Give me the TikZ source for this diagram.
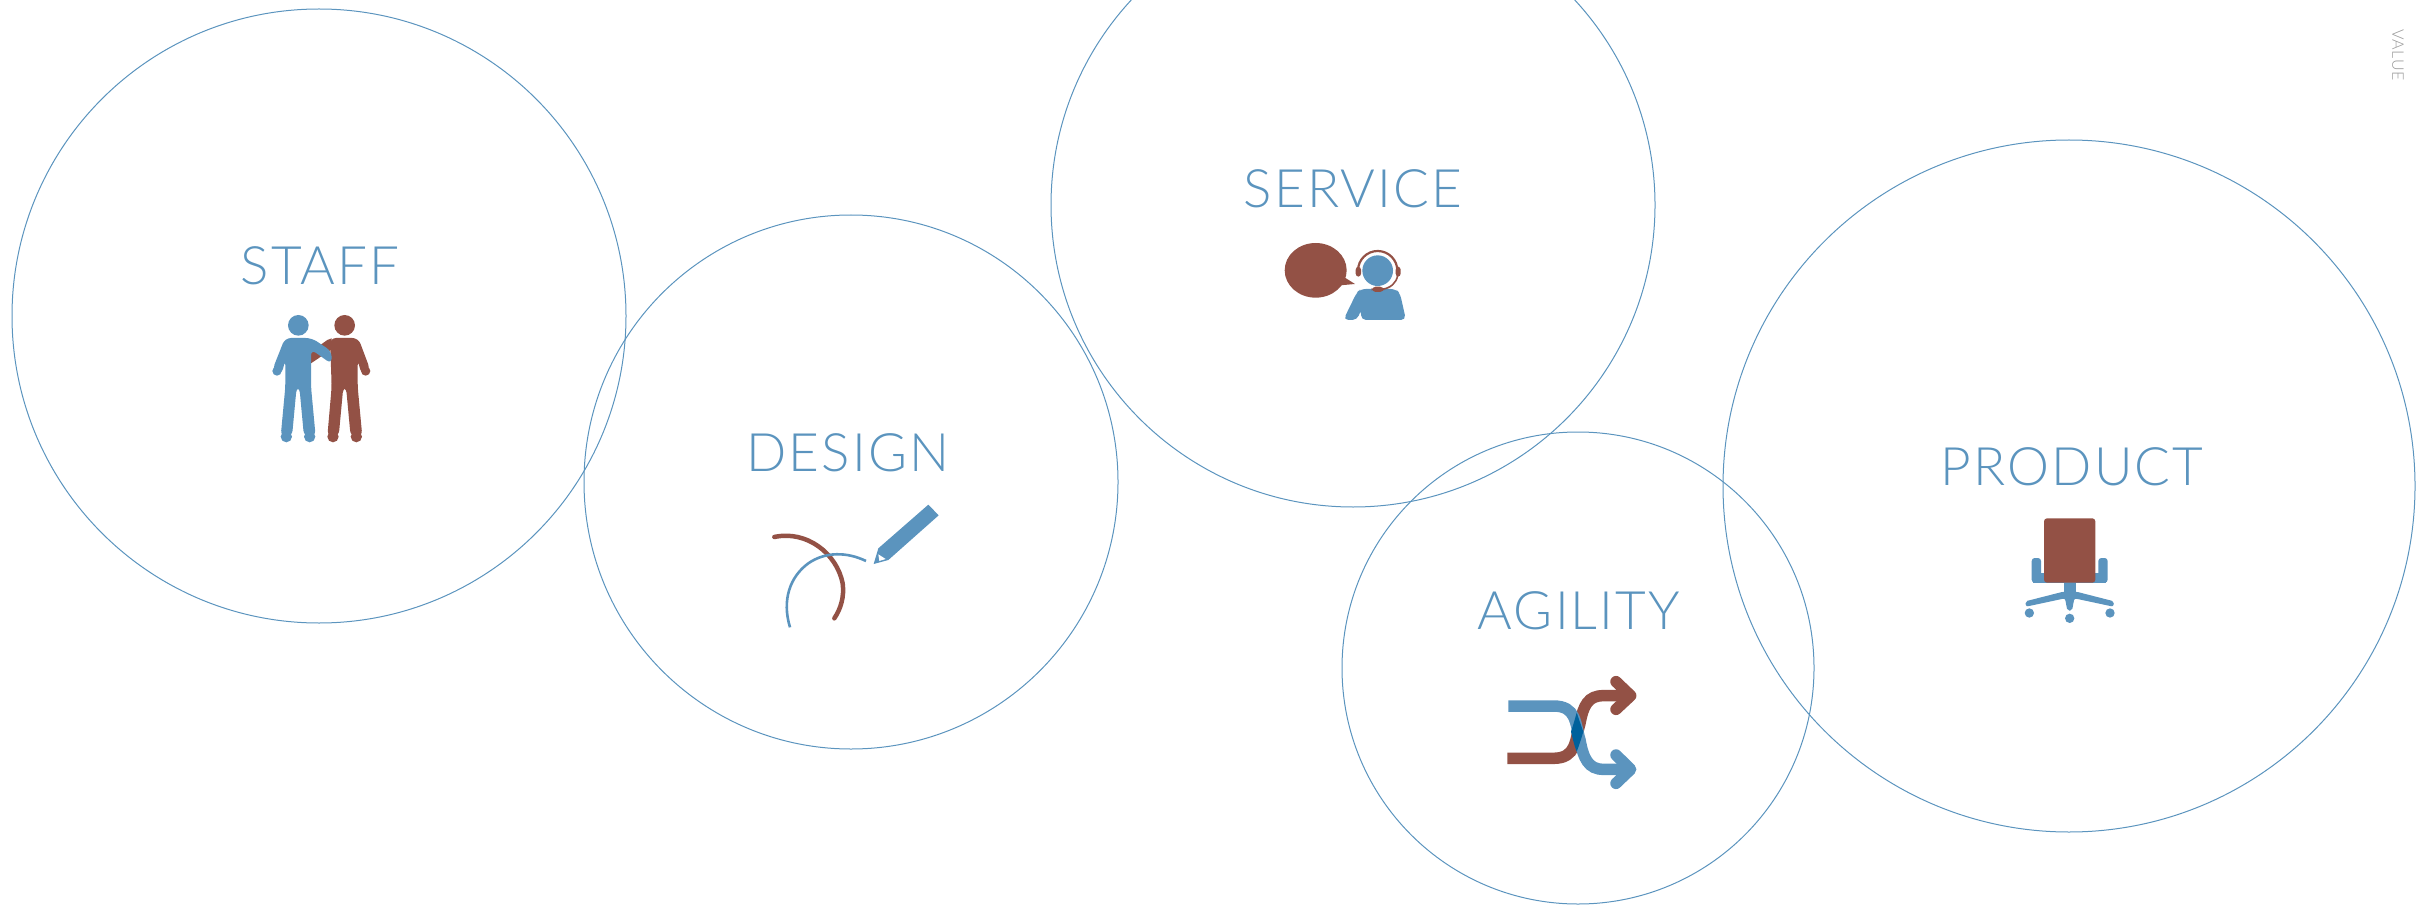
\documentclass[tikz,border=0pt]{standalone}
\usepackage{fontspec}
\newfontfamily\labelfont[LetterSpace=4]{Lato Light}
\definecolor{inkblue}{HTML}{5B94BE}
\definecolor{inkred}{HTML}{935145}
\definecolor{inkdark}{HTML}{00619C}
\definecolor{inkgrey}{HTML}{9A9A9A}
\tikzset{
  ring/.style={draw=inkblue,line width=1pt},
  word/.style={text=inkblue,inner sep=0pt,font=\labelfont\fontsize{53}{53}\selectfont},
  icon/.style={shift={#1},scale=1/3},
  tube/.style={line width=11.5pt}
}
\begin{document}
\begin{tikzpicture}[x=1pt,y=-1pt]
    \useasboundingbox (0,0) rectangle (2427,909);
    \clip (0,0) rectangle (2427,909);
    % the five rings
    \draw[ring] (319,316) circle (307);
    \draw[ring] (851,482) circle (267);
    \draw[ring] (1353,205) circle (302);
    \draw[ring] (1578,668) circle (236);
    \draw[ring] (2069,486) circle (346);
    \node[word] (staff) at (320,266) {STAFF};
    \node[word] (design) at (848,453) {DESIGN};
    \node[word] (service) at (1353,189) {SERVICE};
    \node[word] (agility) at (1579,611) {AGILITY};
    \node[word] (product) at (2072,467) {PRODUCT};
    \node[text=inkgrey,inner sep=0pt,rotate=-90,font=\labelfont\fontsize{16}{16}\selectfont] (value) at (2398,55) {VALUE};
    % staff
    \begin{scope}[icon={(220,220)}]
      \fill[inkred] (335,355) -- (322,360) -- (273,395) -- (273,430) -- (335,388) -- cycle;
      \fill[inkred] (374,316) circle (31);
      \fill[inkred,rounded corners=6pt] (330,354) -- (415,354) -- (451,450) -- (425,465) -- (413,420) -- (413,500) -- (427,650) -- (392,650) -- (378,500) -- (370,500) -- (356,650) -- (322,650) -- (335,500) -- cycle;
      \fill[inkred] (339,650) circle (17) (409,650) circle (17) (437,453) circle (14);
      \fill[inkblue] (235,316) circle (31);
      \fill[inkblue,rounded corners=6pt] (195,354) -- (275,354) -- (335,394) -- (335,432) -- (273,388) -- (273,500) -- (287,650) -- (252,650) -- (238,500) -- (230,500) -- (216,650) -- (182,650) -- (196,500) -- (196,420) -- (184,465) -- (157,450) -- cycle;
      \fill[inkblue] (199,650) circle (17) (269,650) circle (17) (171,453) circle (14);
    \end{scope}
    % design
    \begin{scope}[icon={(740,420)}]
      \draw[inkred,line width=4.5pt,line cap=round] (103,351) .. controls (200,330) and (290,400) .. (308,490) .. controls (313,530) and (303,565) .. (283,595);
      \draw[inkblue,line width=2.6pt] (150,622) .. controls (125,540) and (150,470) .. (205,430) .. controls (255,395) and (320,395) .. (378,423);
      \fill[inkblue] (565,254) -- (596,286) -- (445,420) -- (401,432) -- (415,385) -- cycle;
      \fill[white] (415,403) -- (437,417) -- (418,423) -- cycle;
    \end{scope}
    % service
    \begin{scope}[icon={(1230,150)}]
      \fill[inkred] (257,361) ellipse (93 and 82);
      \fill[inkred] (340,380) -- (375,402) -- (330,406) -- cycle;
      \fill[inkblue,rounded corners=5pt] (340,510) -- (380,428) -- (392,417) -- (497,417) -- (510,430) -- (528,510) -- (393,510) -- (393,478) -- (382,510) -- cycle;
      \fill[inkblue] (443,362) circle (46);
      \draw[inkred,line width=2.2pt] (384,362) arc (180:360:59);
      \draw[inkred,line width=1.6pt] (503,375) .. controls (500,400) and (480,415) .. (455,418);
      \fill[inkred,rounded corners=3pt] (377,350) rectangle (393,380);
      \fill[inkred,rounded corners=3pt] (497,350) rectangle (512,380);
      \fill[inkred,rounded corners=4pt] (425,410) rectangle (462,426);
    \end{scope}
    % agility
    \begin{scope}[icon={(1470,580)}]
      \draw[inkred,tube] (112,535) -- (250,535) .. controls (320,535) and (315,480) .. (330,430) .. controls (340,375) and (355,347) .. (400,347) -- (478,347);
      \draw[inkred,tube,line cap=round,line join=round] (438,305) -- (482,347) -- (438,388);
      \draw[inkblue,tube] (115,378) -- (250,378) .. controls (320,378) and (315,430) .. (330,480) .. controls (340,535) and (355,568) .. (400,568) -- (478,568);
      \draw[inkblue,tube,line cap=round,line join=round] (438,525) -- (482,568) -- (438,610);
      \fill[inkdark] (320,398) .. controls (328,420) and (334,440) .. (340,455) .. controls (334,475) and (328,495) .. (320,515) .. controls (312,495) and (308,475) .. (303,455) .. controls (308,440) and (314,420) .. cycle;
    \end{scope}
    % product
    \begin{scope}[icon={(1940,430)}]
      \fill[inkblue,rounded corners=3pt] (275,384) rectangle (303,458);
      \fill[inkblue,rounded corners=3pt] (475,384) rectangle (503,458);
      \fill[inkblue] (280,430) rectangle (498,458);
      \fill[inkblue] (371,455) rectangle (409,490);
      \fill[inkblue,rounded corners=2pt] (370,485) -- (256,514) -- (258,530) -- (375,505) -- (382,542) -- (396,542) -- (403,505) -- (520,530) -- (522,514) -- (409,485) -- cycle;
      \fill[inkblue] (268,549) circle (14) (389,565) circle (14) (510,549) circle (14);
      \fill[inkred,rounded corners=3pt] (312,265) rectangle (466,458);
    \end{scope}
\end{tikzpicture}
\end{document}
